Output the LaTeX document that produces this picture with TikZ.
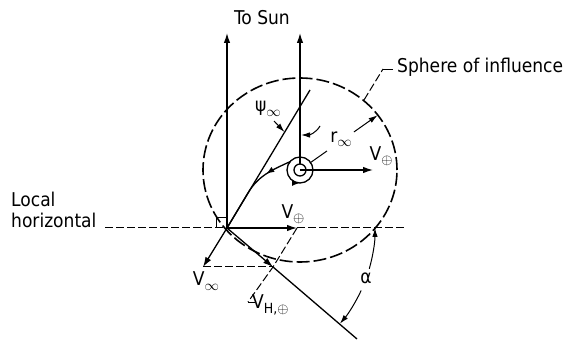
\documentclass[tikz,border=0pt]{standalone}
\usepackage{fontspec}
\setmainfont{DejaVu Sans Condensed}
\usetikzlibrary{arrows.meta,positioning,calc,decorations.markings}
\newcommand{\lowsub}[1]{\raisebox{-4.5pt}{\fontsize{14}{14}\selectfont #1}}

\begin{document}
\begin{tikzpicture}[
  x=1pt,y=1pt,
  vec/.style={-{Latex[length=10pt,width=6.5pt]},line width=1.3pt},
  axis/.style={line width=1.3pt},
  guide/.style={line width=1pt,dash pattern=on 8pt off 3pt},
  soi/.style={line width=1.6pt,dash pattern=on 13pt off 4pt},
  lead/.style={-{Latex[length=9pt,width=5.5pt]},line width=1pt},
  lbl/.style={font=\fontsize{19}{21}\selectfont,inner sep=1pt},
  midarrow/.style={postaction={decorate},decoration={markings,
    mark=at position #1 with {\arrow{Latex[length=8pt,width=6pt]}}}}
]
  \useasboundingbox (0,0) rectangle (567,345);

  \coordinate (dep) at (227,117);
  \coordinate (planet) at (300,175);

  % sphere of influence
  \draw[soi] (planet) ellipse[x radius=97,y radius=92];

  % sun lines
  \node[lbl] (sun) at (262,327) {To Sun};
  \coordinate (sunA) at (227,312);
  \coordinate (sunB) at (300,312);
  \coordinate (ptop) at (300,181);
  \draw[vec] (dep) -- (sunA);
  \draw[vec] (ptop) -- (sunB);

  % local horizontal
  \node[lbl,align=left,anchor=base west] (loc) at (10,117) {Local\\horizontal};
  \coordinate (hl) at (105,117);
  \coordinate (hr) at (405,117);
  \coordinate (vdtip) at (297,117);
  \draw[guide] (hl) -- (dep);
  \draw[guide] (vdtip) -- (hr);
  \draw[line width=0.9pt] ($(dep)+(-11,0)$) -- ++(0,11) -- ++(11,0);

  % asymptote and velocities
  \coordinate (asy) at (310,255);
  \coordinate (vinf) at (203,78);
  \coordinate (vh) at (273,78);
  \coordinate (vhend) at (357,6);
  \coordinate (vhcorner) at (248,43);
  \draw[axis] (dep) -- (asy);
  \draw[vec] (dep) -- (vinf);
  \draw[vec] (dep) -- (vdtip);
  \draw[vec] (dep) -- (vh);
  \draw[axis] (vh) -- (vhend);
  \draw[guide] (vinf) -- (vh);
  \draw[guide] (vdtip) -- (vh) -- (vhcorner);
  \draw[line width=0.9pt] (vhcorner) -- ++(7,0);

  \node[lbl] (vdlab) at (293,131) {V\lowsub{$\oplus$}};
  \node[lbl] (vinflab) at (206,64) {V\lowsub{$\infty$}};
  \node[lbl,anchor=west] (vhlab) at (251,40) {V\lowsub{H,$\oplus$}};

  % escape hyperbola from parking orbit
  \coordinate (orb) at ($(planet)+(140:13)$);
  \coordinate (merge) at (248,152);
  \draw[axis,midarrow=0.5] (orb) to[out=205,in=59] (merge);
  \draw[axis] (merge) -- (dep);
  \draw[axis,midarrow=0.75] (planet) circle[radius=13];
  \draw[axis,fill=white] (planet) circle[radius=6];

  \coordinate (vptip) at (373,175);
  \draw[vec] (planet) -- (vptip);
  \node[lbl] (vplab) at (381,189) {V\lowsub{$\oplus$}};

  % r infinity
  \coordinate (r0) at ($(planet)+(35.2:12)$);
  \coordinate (r1) at ($(planet)+(35.2:33)$);
  \coordinate (r2) at ($(planet)+(35.2:66)$);
  \coordinate (r3) at ($(planet)+(35.2:95)$);
  \draw[line width=1pt] (r0) -- (r1);
  \draw[lead] (r2) -- (r3);
  \node[lbl] (rlab) at (341,206) {r\lowsub{$\infty$}};

  % psi infinity
  \node[lbl] (psilab) at (268,236) {ψ\lowsub{$\infty$}};
  \coordinate (psi1) at (274,224);
  \coordinate (psi2) at (284.5,213);
  \draw[lead] (psi1) -- (psi2);
  \coordinate (psi3) at (320,219);
  \coordinate (psi4) at (301,210);
  \draw[lead] (psi3) to[out=240,in=0] (psi4);

  % sphere label
  \node[lbl,anchor=base west] (soilab) at (396,272) {Sphere of influence};
  \coordinate (soiP) at (364,245);
  \coordinate (soiK) at (383,276);
  \draw[guide] (soiP) -- (soiK);
  \draw[line width=0.9pt] (soiK) -- ++(10,0);

  % alpha
  \draw[lead] ($(dep)+(-16:148)$) arc[start angle=-16,end angle=0,radius=148];
  \draw[lead] ($(dep)+(-25:148)$) arc[start angle=-25,end angle=-40.3,radius=148];
  \node[lbl] (alab) at (366,67) {α};
\end{tikzpicture}
\end{document}
